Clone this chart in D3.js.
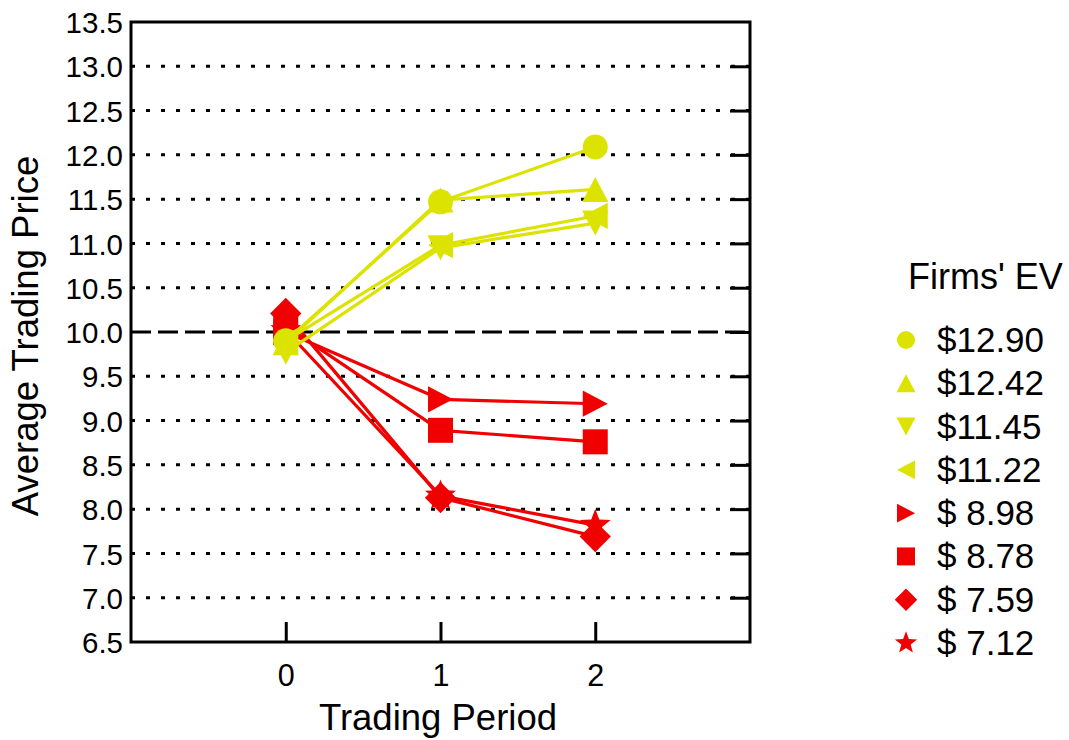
<!DOCTYPE html>
<html>
<head>
<meta charset="utf-8">
<script src="https://cdn.jsdelivr.net/npm/d3@7"></script>
<style>
  html, body { margin: 0; padding: 0; background: #fff; }
  svg { display: block; font-family: "Liberation Sans", Arial, Helvetica, sans-serif; }
</style>
</head>
<body>
<svg id="chart" width="1069" height="740"></svg>
<script>
// ---------------- DATA ----------------
const periods = [0, 1, 2];
const xTickValues = [0, 1, 2];
const yTickValues = [6.5, 7.0, 7.5, 8.0, 8.5, 9.0, 9.5, 10.0, 10.5, 11.0, 11.5, 12.0, 12.5, 13.0, 13.5];
const gridValues = [7.0, 7.5, 8.0, 8.5, 9.0, 9.5, 10.0, 10.5, 11.0, 11.5, 12.0, 12.5, 13.0];
const referenceLine = 10.0;

const seriesLabels = ["$12.90", "$12.42", "$11.45", "$11.22", "$ 8.98", "$ 8.78", "$ 7.59", "$ 7.12"];
const seriesShapes = ["circle", "triangleUp", "triangleDown", "triangleLeft", "triangleRight", "square", "diamond", "star"];
const seriesGroups = ["high", "high", "high", "high", "low", "low", "low", "low"];

const ev1290 = [9.90, 11.47, 12.09];
const ev1242 = [9.88, 11.49, 11.61];
const ev1145 = [9.77, 10.95, 11.23];
const ev1122 = [9.90, 10.98, 11.31];
const ev898  = [10.00, 9.24, 9.19];
const ev878  = [10.07, 8.89, 8.76];
const ev759  = [10.21, 8.13, 7.69];
const ev712  = [10.02, 8.15, 7.82];
const seriesValues = [ev1290, ev1242, ev1145, ev1122, ev898, ev878, ev759, ev712];

const xTitle = "Trading Period";
const yTitle = "Average Trading Price";
const legendTitle = "Firms' EV";

// ---------------- STYLE ----------------
const colorFor = { high: "#dde300", low: "#f00000" };
const pLeft = 131, pRight = 750, pTop = 22, pBottom = 642;

const svg = d3.select("#chart");
const x = d3.scaleLinear().domain([-1, 3]).range([pLeft, pRight]);
const y = d3.scaleLinear().domain([6.5, 13.5]).range([pBottom, pTop]);

function shapePath(type, s) {
  const h = s / 2;
  switch (type) {
    case "circle": {
      const p = d3.path(); p.arc(0, 0, h, 0, 2 * Math.PI); return p.toString();
    }
    case "square":
      return `M${-h},${-h}L${h},${-h}L${h},${h}L${-h},${h}Z`;
    case "triangleUp":
      return `M0,${-h}L${h * 1.05},${h}L${-h * 1.05},${h}Z`;
    case "triangleDown":
      return `M0,${h}L${h * 1.05},${-h}L${-h * 1.05},${-h}Z`;
    case "triangleLeft":
      return `M${-h},0L${h},${-h * 1.05}L${h},${h * 1.05}Z`;
    case "triangleRight":
      return `M${h},0L${-h},${-h * 1.05}L${-h},${h * 1.05}Z`;
    case "diamond": {
      const d = h * 1.25;
      return `M0,${-d}L${d},0L0,${d}L${-d},0Z`;
    }
    case "star": {
      const R = h * 1.3, r = R * 0.42;
      let str = "";
      for (let i = 0; i < 10; i++) {
        const a = -Math.PI / 2 + i * Math.PI / 5;
        const rad = i % 2 === 0 ? R : r;
        str += (i === 0 ? "M" : "L") + (rad * Math.cos(a)).toFixed(2) + "," + (rad * Math.sin(a)).toFixed(2);
      }
      return str + "Z";
    }
  }
}

// ---------------- GRID ----------------
const grid = svg.append("g");
grid.selectAll("line").data(gridValues).join("line")
  .attr("x1", pLeft).attr("x2", pRight)
  .attr("y1", d => y(d)).attr("y2", d => y(d))
  .attr("stroke", "#000")
  .attr("stroke-width", 3)
  .attr("stroke-dasharray", d => d === referenceLine ? "20,7" : "4,11");

// ---------------- AXES ----------------
const yAxis = svg.append("g")
  .attr("transform", `translate(${pLeft},0)`)
  .call(d3.axisLeft(y).tickValues(yTickValues).tickFormat(d3.format(".1f"))
    .tickSize(0).tickPadding(8));
yAxis.select(".domain").remove();
yAxis.selectAll("text").attr("font-size", 29.5).attr("dy", "0.36em")
  .attr("font-family", "Liberation Sans, Arial, sans-serif").attr("fill", "#000");

const yAxisR = svg.append("g")
  .attr("transform", `translate(${pRight},0)`)
  .call(d3.axisRight(y).tickValues(gridValues).tickFormat("")
    .tickSizeInner(-20).tickSizeOuter(0));
yAxisR.select(".domain").remove();
yAxisR.selectAll("line").attr("stroke", "#000").attr("stroke-width", 3);

const xAxis = svg.append("g")
  .attr("transform", `translate(0,${pBottom})`)
  .call(d3.axisBottom(x).tickValues(xTickValues).tickFormat(d3.format("d"))
    .tickSizeInner(-20).tickSizeOuter(0).tickPadding(22));
xAxis.select(".domain").remove();
xAxis.selectAll("line").attr("stroke", "#000").attr("stroke-width", 3);
xAxis.selectAll("text").attr("font-size", 30.5)
  .attr("font-family", "Liberation Sans, Arial, sans-serif").attr("fill", "#000");

svg.append("rect")
  .attr("x", pLeft).attr("y", pTop)
  .attr("width", pRight - pLeft).attr("height", pBottom - pTop)
  .attr("fill", "none").attr("stroke", "#000").attr("stroke-width", 3);

svg.append("text")
  .attr("x", 438).attr("y", 730)
  .attr("text-anchor", "middle").attr("font-size", 36.5)
  .text(xTitle);
svg.append("text")
  .attr("transform", `translate(38,336) rotate(-90)`)
  .attr("text-anchor", "middle").attr("font-size", 36.5)
  .text(yTitle);

// ---------------- SERIES ----------------
const lineGen = d3.line().x((d, i) => x(periods[i])).y(d => y(d));
const order = d3.range(seriesValues.length).reverse();
const plot = svg.append("g");
order.forEach(k => {
  const col = colorFor[seriesGroups[k]];
  const g = plot.append("g");
  g.append("path").datum(seriesValues[k])
    .attr("d", lineGen).attr("fill", "none")
    .attr("stroke", col).attr("stroke-width", 3.2).attr("stroke-linejoin", "round");
  g.selectAll("path.m").data(seriesValues[k]).join("path")
    .attr("class", "m")
    .attr("transform", (d, i) => `translate(${x(periods[i])},${y(d)})`)
    .attr("d", shapePath(seriesShapes[k], 25))
    .attr("fill", col);
});

// ---------------- LEGEND ----------------
const leg = svg.append("g");
leg.append("text").attr("x", 908).attr("y", 289).attr("font-size", 36).text(legendTitle);
const legY = d3.scaleLinear().domain([0, 7]).range([340, 643]);
seriesLabels.forEach((lab, k) => {
  const cy = legY(k);
  leg.append("path")
    .attr("transform", `translate(906,${cy})`)
    .attr("d", shapePath(seriesShapes[k], 18))
    .attr("fill", colorFor[seriesGroups[k]]);
  leg.append("text").attr("x", 937).attr("y", cy + 12)
    .attr("font-size", 35).text(lab);
});
</script>
</body>
</html>
